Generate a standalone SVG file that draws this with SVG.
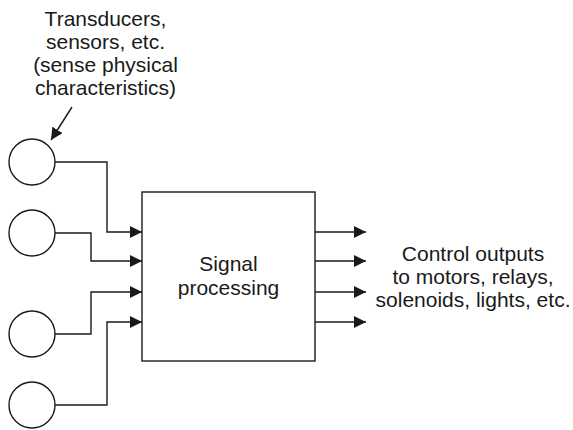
<svg xmlns="http://www.w3.org/2000/svg" width="573" height="430" viewBox="0 0 573 430">
<style>
.ln{fill:none;stroke:#1a1a1a;stroke-width:1.4}
.nd{fill:#fff;stroke:#1a1a1a;stroke-width:1.4}
.tx{font-family:"Liberation Sans",Arial,sans-serif;font-size:21px;fill:#1a1a1a;text-anchor:middle}
</style>
<defs>
<marker id="ah" markerWidth="12" markerHeight="12" refX="12" refY="6" orient="auto" markerUnits="userSpaceOnUse">
<path d="M0,0 L12,6 L0,12 Z" fill="#1a1a1a"/>
</marker>
</defs>
<rect width="573" height="430" fill="#fff"/>
<g id="label-top">
<text class="tx" x="105.5" y="26">Transducers,</text>
<text class="tx" x="105.5" y="49">sensors, etc.</text>
<text class="tx" x="105.5" y="72">(sense physical</text>
<text class="tx" x="105.5" y="95">characteristics)</text>
</g>
<g id="sensor1"><circle class="nd" cx="32" cy="162" r="23"/></g>
<g id="sensor2"><circle class="nd" cx="32" cy="233" r="23"/></g>
<g id="sensor3"><circle class="nd" cx="32" cy="334" r="23"/></g>
<g id="sensor4"><circle class="nd" cx="32" cy="405" r="23"/></g>
<g id="processor">
<rect class="nd" x="142" y="192" width="173" height="169"/>
<text class="tx" x="228.5" y="271">Signal</text>
<text class="tx" x="228.5" y="295">processing</text>
</g>
<g id="label-right">
<text class="tx" x="473" y="261">Control outputs</text>
<text class="tx" x="473" y="284">to motors, relays,</text>
<text class="tx" x="473" y="307">solenoids, lights, etc.</text>
</g>
<g id="connectors">
<path class="ln" d="M72,107 L51,140" marker-end="url(#ah)"/>
<path class="ln" d="M55,162 H107 V232 H142" marker-end="url(#ah)"/>
<path class="ln" d="M55,233 H91 V261 H142" marker-end="url(#ah)"/>
<path class="ln" d="M55,334 H91 V292 H142" marker-end="url(#ah)"/>
<path class="ln" d="M55,405 H107 V322 H142" marker-end="url(#ah)"/>
<path class="ln" d="M315,232 H366" marker-end="url(#ah)"/>
<path class="ln" d="M315,261 H366" marker-end="url(#ah)"/>
<path class="ln" d="M315,292 H366" marker-end="url(#ah)"/>
<path class="ln" d="M315,322 H366" marker-end="url(#ah)"/>
</g>
</svg>
